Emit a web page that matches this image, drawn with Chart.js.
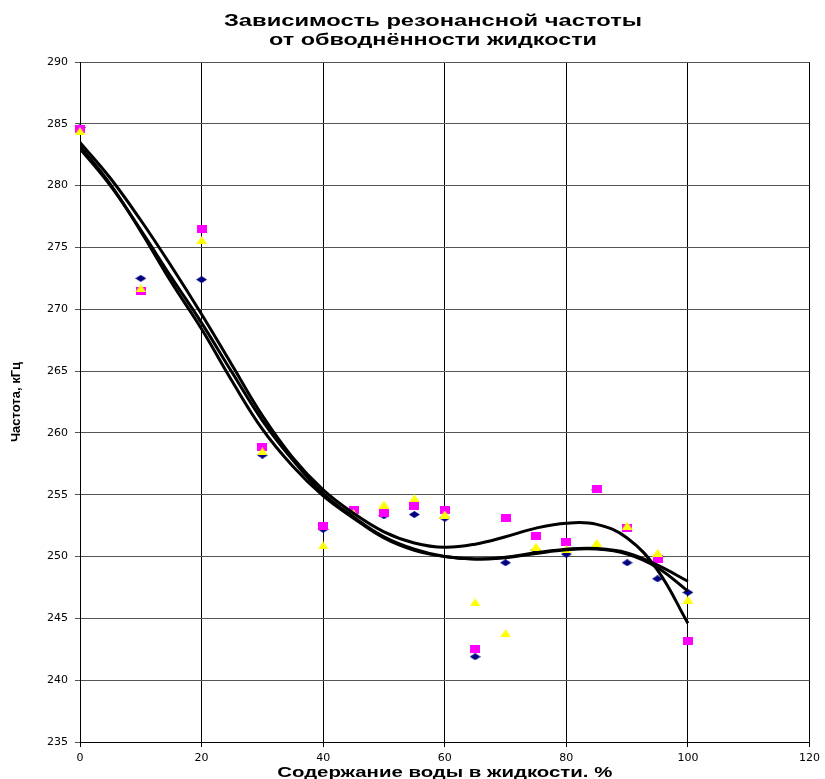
<!DOCTYPE html>
<html lang="ru">
<head>
<meta charset="utf-8">
<title>Зависимость резонансной частоты от обводнённости жидкости</title>
<script src="https://cdn.jsdelivr.net/npm/chart.js@4/dist/chart.umd.min.js"></script>
<style>
    html, body { margin: 0; padding: 0; background: #fff; }
</style>
</head>
<body>
<canvas id="chart" width="825" height="779"></canvas>
<script>
// measured points: water content, %
const waterPct = [0, 10, 20, 30, 40, 45, 50, 55, 60, 65, 70, 75, 80, 85, 90, 95, 100];
// resonance frequency, kHz (three measurement runs)
const freqNavy = [284.7, 272.5, 272.4, 258.2, 252.2, 253.7, 253.3, 253.4, 253.1, 241.9, 249.5, 250.5, 250.2, 255.4, 249.5, 248.2, 247.1];
const freqMagenta = [284.6, 271.5, 276.5, 258.9, 252.5, 253.8, 253.5, 254.1, 253.8, 242.5, 253.1, 251.7, 251.2, 255.5, 252.3, 249.8, 243.2];
const freqYellow = [284.4, 271.7, 275.6, 258.5, 250.9, 253.5, 254.2, 254.7, 253.4, 246.3, 243.8, 250.8, 250.6, 251.1, 252.5, 250.3, 246.5];

// trend lines, every 5 %
const trendPct = [0, 5, 10, 15, 20, 25, 30, 35, 40, 45, 50, 55, 60, 65, 70, 75, 80, 85, 90, 95, 100];
const trendA = [283.5, 280.6, 277.2, 273.5, 269.6, 265.5, 261.4, 258.0, 255.4, 253.5, 252.0, 251.1, 250.75, 251.0, 251.6, 252.3, 252.7, 252.6, 251.5, 248.9, 244.6];
const trendB = [283.0, 280.0, 276.4, 272.6, 268.9, 264.9, 261.0, 257.8, 255.1, 253.2, 251.6, 250.6, 250.0, 249.8, 249.95, 250.3, 250.6, 250.65, 250.3, 249.3, 248.0];
const trendC = [283.2, 280.1, 276.3, 272.2, 268.4, 264.2, 260.3, 257.3, 254.9, 253.1, 251.5, 250.5, 250.0, 249.8, 249.9, 250.25, 250.55, 250.6, 250.2, 249.1, 247.2];

const titleLines = ["Зависимость резонансной частоты", "от обводнённости жидкости"];
const xTitle = "Содержание воды в жидкости. %";
const yTitle = "Частота, кГц";

const toPoints = (xs, ys) => xs.map((x, i) => ({x: x, y: ys[i]}));

// small canvases used as point styles
function marker(w, h, color, shape) {
    const c = document.createElement("canvas");
    c.width = w;
    c.height = h;
    const g = c.getContext("2d");
    g.fillStyle = color;
    g.beginPath();
    shape(g, w, h);
    g.fill();
    return c;
}

const diamond = marker(11, 7, "#000080", (g, w, h) => {
    g.moveTo(w / 2, 0); g.lineTo(w, h / 2); g.lineTo(w / 2, h); g.lineTo(0, h / 2); g.closePath();
});
const square = marker(10, 8, "#ff00ff", (g, w, h) => g.rect(0, 0, w, h));
const triangle = marker(11, 8, "#ffff00", (g, w, h) => {
    g.moveTo(w / 2, 0); g.lineTo(w, h); g.lineTo(0, h); g.closePath();
});

// the original text is wide, so it is stretched to the measured width
function wideText(ctx, text, x, y, font, width) {
    ctx.save();
    ctx.font = font;
    const sx = width / ctx.measureText(text).width;
    ctx.translate(x, y);
    ctx.scale(sx, 1);
    ctx.fillText(text, 0, 0);
    ctx.restore();
}

const titlesPlugin = {
    id: "titles",
    afterDraw(chart) {
        const ctx = chart.ctx;
        const area = chart.chartArea;
        ctx.save();
        ctx.fillStyle = "#000";
        ctx.textAlign = "center";
        ctx.textBaseline = "middle";
        const font = 'bold 16px "Liberation Sans", Arial, sans-serif';
        wideText(ctx, titleLines[0], 433, 22, font, 418);
        wideText(ctx, titleLines[1], 433, 41, font, 328);
        wideText(ctx, xTitle, (area.left + area.right) / 2, 773, 'bold 15px "Liberation Sans", Arial, sans-serif', 335);
        ctx.restore();
    }
};

const lineStyle = {
    showLine: true,
    borderColor: "#000",
    borderWidth: 3,
    pointRadius: 0,
    tension: 0.4,
    order: 0
};

const tickFont = {family: '"DejaVu Sans", sans-serif', size: 11};

new Chart(document.getElementById("chart"), {
    type: "scatter",
    data: {
        datasets: [
            {data: toPoints(waterPct, freqNavy), pointStyle: diamond, pointRadius: 5, clip: false, order: 3},
            {data: toPoints(waterPct, freqMagenta), pointStyle: square, pointRadius: 5, clip: false, order: 2},
            {data: toPoints(waterPct, freqYellow), pointStyle: triangle, pointRadius: 5, clip: false, order: 1},
            {...lineStyle, data: toPoints(trendPct, trendA)},
            {...lineStyle, data: toPoints(trendPct, trendB)},
            {...lineStyle, data: toPoints(trendPct, trendC)}
        ]
    },
    options: {
        responsive: false,
        animation: false,
        events: [],
        layout: {padding: {top: 62, right: 12, bottom: 0, left: 0}},
        plugins: {
            legend: {display: false},
            tooltip: {enabled: false}
        },
        scales: {
            x: {
                type: "linear",
                min: 0,
                max: 120,
                ticks: {stepSize: 20, color: "#000", font: tickFont, padding: 5},
                grid: {color: "#000", lineWidth: 1, tickLength: 5},
                border: {color: "#000", width: 1},
                afterFit(scale) { scale.height = 37; }
            },
            y: {
                min: 235,
                max: 290,
                ticks: {stepSize: 5, color: "#000", font: tickFont, padding: 7},
                grid: {color: "#555", lineWidth: 1, tickLength: 5},
                border: {color: "#000", width: 1},
                title: {
                    display: true,
                    text: yTitle,
                    color: "#000",
                    font: {family: '"Liberation Sans", Arial, sans-serif', size: 13, weight: "bold"},
                    padding: {top: 9, bottom: 0}
                },
                afterFit(scale) { scale.width = 80; }
            }
        }
    },
    plugins: [titlesPlugin]
});
</script>
</body>
</html>
